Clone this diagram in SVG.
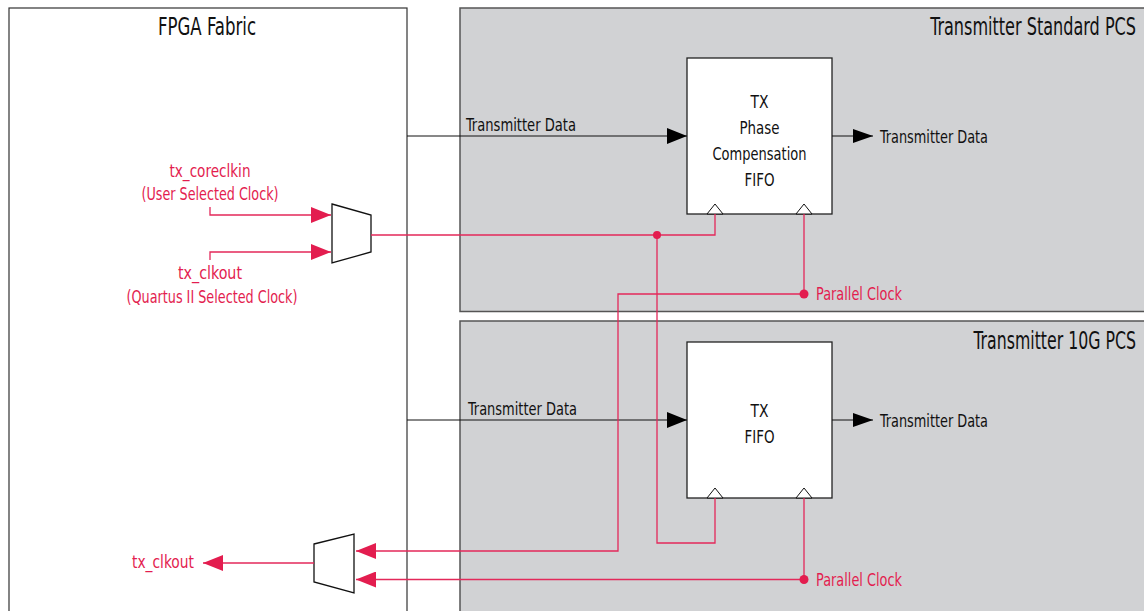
<svg xmlns="http://www.w3.org/2000/svg" width="1144" height="611" viewBox="0 0 1144 611">
<style>
text{font-family:"Liberation Sans Narrow","DejaVu Sans Condensed","Liberation Sans",sans-serif;}
.t{font-size:24px;fill:#111;}
.l{font-size:18px;fill:#111;}
.r{font-size:18px;fill:#e31d4f;}
.pcs{fill:#d1d2d4;stroke:#555;stroke-width:1.5;}
.fab{fill:#fff;stroke:#333;stroke-width:1.2;}
.blk{fill:#fff;stroke:#222;stroke-width:1.3;}
.mux{fill:#fff;stroke:#111;stroke-width:1.3;}
.clk{fill:#fff;stroke:#111;stroke-width:1;}
.d{fill:none;stroke:#111;stroke-width:1;}
.c{fill:none;stroke:#e3295a;stroke-width:1.3;}
.dot{fill:#e31d4f;}
</style>
<defs>
<marker id="ab" markerUnits="userSpaceOnUse" markerWidth="20" markerHeight="16" refX="20" refY="8" orient="auto" viewBox="0 0 20 16"><path d="M0,0 L20,8 L0,16 z" fill="#000"/></marker>
<marker id="ab2" markerUnits="userSpaceOnUse" markerWidth="20" markerHeight="14" refX="20" refY="7" orient="auto" viewBox="0 0 20 14"><path d="M0,0 L20,7 L0,14 z" fill="#000"/></marker>
<marker id="ar" markerUnits="userSpaceOnUse" markerWidth="20" markerHeight="16" refX="20" refY="8" orient="auto" viewBox="0 0 20 16"><path d="M0,0 L20,8 L0,16 z" fill="#e31d4f"/></marker>
</defs>

<g id="fpga-fabric">
<rect class="fab" x="9" y="8" width="398" height="620"/>
<text class="t" x="207" y="35" text-anchor="middle" textLength="98" lengthAdjust="spacingAndGlyphs">FPGA Fabric</text>
</g>

<g id="tx-standard-pcs">
<rect class="pcs" x="460" y="8" width="700" height="303.5"/>
<text class="t" transform="translate(1136,35) scale(0.735,1)" x="0" y="0" text-anchor="end" textLength="280" lengthAdjust="spacingAndGlyphs">Transmitter Standard PCS</text>
</g>

<g id="tx-10g-pcs">
<rect class="pcs" x="460" y="321" width="700" height="300"/>
<text class="t" transform="translate(1136,349) scale(0.735,1)" x="0" y="0" text-anchor="end" textLength="221" lengthAdjust="spacingAndGlyphs">Transmitter 10G PCS</text>
</g>

<g id="tx-phase-comp-fifo">
<rect class="blk" x="687" y="58" width="145" height="156"/>
<text class="l" x="759.5" y="108" text-anchor="middle" textLength="18" lengthAdjust="spacingAndGlyphs">TX</text>
<text class="l" x="759.5" y="134" text-anchor="middle" textLength="40" lengthAdjust="spacingAndGlyphs">Phase</text>
<text class="l" x="759.5" y="160" text-anchor="middle" textLength="94" lengthAdjust="spacingAndGlyphs">Compensation</text>
<text class="l" x="759.5" y="186" text-anchor="middle" textLength="30" lengthAdjust="spacingAndGlyphs">FIFO</text>
<polygon class="clk" points="707,214 715,204 723,214"/>
<polygon class="clk" points="796,214 804,204 812,214"/>
</g>

<g id="tx-fifo">
<rect class="blk" x="687" y="342" width="145" height="156"/>
<text class="l" x="759.5" y="417" text-anchor="middle" textLength="18" lengthAdjust="spacingAndGlyphs">TX</text>
<text class="l" x="759.5" y="443" text-anchor="middle" textLength="30" lengthAdjust="spacingAndGlyphs">FIFO</text>
<polygon class="clk" points="707,498 715,488 723,498"/>
<polygon class="clk" points="796,498 804,488 812,498"/>
</g>

<g id="mux-in">
<polygon class="mux" points="332,204 371,215 371,252 332,263"/>
</g>

<g id="mux-out">
<polygon class="mux" points="314,544 354,534 354,593 314,582"/>
</g>

<g id="labels">
<text class="l" x="466" y="131" textLength="110" lengthAdjust="spacingAndGlyphs">Transmitter Data</text>
<text class="l" x="880" y="143" textLength="108" lengthAdjust="spacingAndGlyphs">Transmitter Data</text>
<text class="l" x="468" y="415" textLength="109" lengthAdjust="spacingAndGlyphs">Transmitter Data</text>
<text class="l" x="880" y="427" textLength="108" lengthAdjust="spacingAndGlyphs">Transmitter Data</text>
<text class="r" x="210" y="177" text-anchor="middle" textLength="81" lengthAdjust="spacingAndGlyphs">tx_coreclkin</text>
<text class="r" x="210" y="200" text-anchor="middle" textLength="137" lengthAdjust="spacingAndGlyphs">(User Selected Clock)</text>
<text class="r" x="210" y="279" text-anchor="middle" textLength="64" lengthAdjust="spacingAndGlyphs">tx_clkout</text>
<text class="r" x="212" y="303" text-anchor="middle" textLength="171" lengthAdjust="spacingAndGlyphs">(Quartus II Selected Clock)</text>
<text class="r" x="816" y="300" textLength="86" lengthAdjust="spacingAndGlyphs">Parallel Clock</text>
<text class="r" x="816" y="586" textLength="86" lengthAdjust="spacingAndGlyphs">Parallel Clock</text>
<text class="r" x="132" y="568" textLength="62" lengthAdjust="spacingAndGlyphs">tx_clkout</text>
</g>

<g id="connectors">
<path class="d" d="M407,136 H687" marker-end="url(#ab)"/>
<path class="d" d="M832,136 H873" marker-end="url(#ab2)"/>
<path class="d" d="M407,420 H687" marker-end="url(#ab)"/>
<path class="d" d="M832,420 H873" marker-end="url(#ab2)"/>
<path class="c" d="M210,207 V215 H331" marker-end="url(#ar)"/>
<path class="c" d="M210,260 V252 H331" marker-end="url(#ar)"/>
<path class="c" d="M371,235 H715 V214"/>
<path class="c" d="M657,235 V543 H715 V498"/>
<path class="c" d="M804,214 V294 H618 V551 H356" marker-end="url(#ar)"/>
<path class="c" d="M804,498 V579.5 H356" marker-end="url(#ar)"/>
<path class="c" d="M314,563 H203" marker-end="url(#ar)"/>
<circle class="dot" cx="657" cy="235" r="4"/>
<circle class="dot" cx="804" cy="294" r="4.5"/>
<circle class="dot" cx="804" cy="579.5" r="4.5"/>
</g>
</svg>
